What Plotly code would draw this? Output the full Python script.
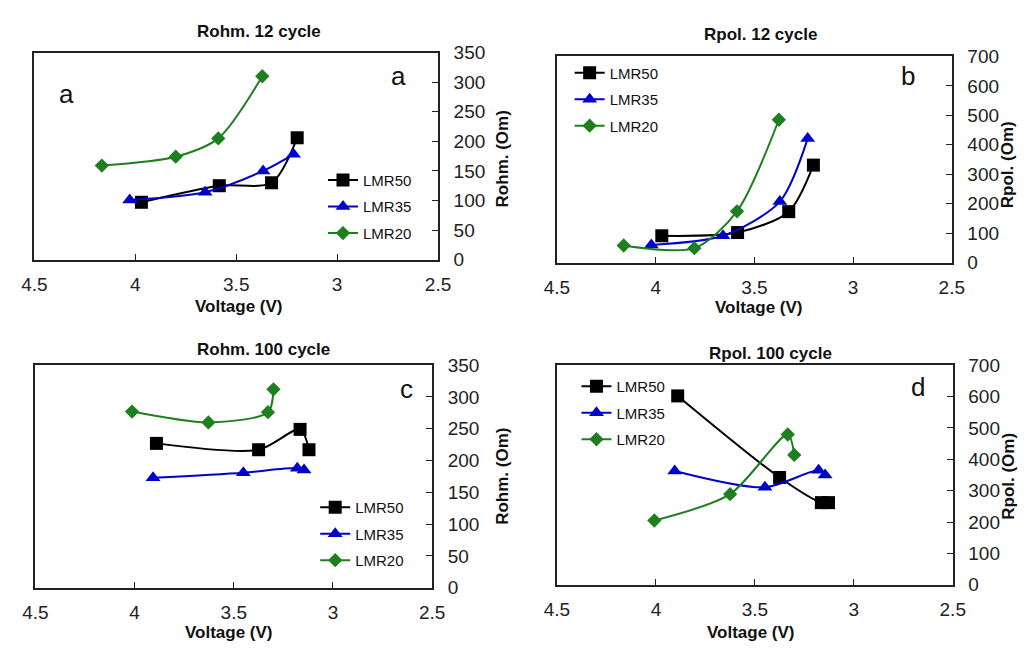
import plotly.graph_objects as go

# ---------------- data ----------------
series_names = ["LMR50", "LMR35", "LMR20"]

# (a) Rohm, 12 cycle
a_v50 = [3.970, 3.584, 3.325, 3.198]
a_r50 = [97, 125, 130, 206]
a_v35 = [4.028, 3.654, 3.367, 3.216]
a_r35 = [101, 114, 150, 178]
a_v20 = [4.166, 3.800, 3.589, 3.371]
a_r20 = [159, 174, 205, 310]

# (b) Rpol, 12 cycle
b_v50 = [3.969, 3.585, 3.326, 3.201]
b_r50 = [91, 102, 173, 331]
b_v35 = [4.022, 3.659, 3.371, 3.230]
b_r35 = [60, 91, 207, 421]
b_v20 = [4.162, 3.804, 3.588, 3.376]
b_r20 = [58, 49, 174, 485]

# (c) Rohm, 100 cycle
c_v50 = [3.890, 3.375, 3.166, 3.121]
c_r50 = [227, 217, 249, 217]
c_v35 = [3.907, 3.452, 3.180, 3.146]
c_r35 = [173, 181, 188, 185]
c_v20 = [4.013, 3.628, 3.328, 3.300]
c_r20 = [277, 260, 276, 312]

# (d) Rpol, 100 cycle
d_v50 = [3.890, 3.375, 3.164, 3.128]
d_r50 = [602, 342, 262, 262]
d_v35 = [3.905, 3.449, 3.178, 3.145]
d_r35 = [363, 311, 365, 350]
d_v20 = [4.008, 3.625, 3.334, 3.301]
d_r20 = [205, 289, 479, 414]

x_ticks = [4.5, 4, 3.5, 3, 2.5]
rohm_ticks = [0, 50, 100, 150, 200, 250, 300, 350]
rpol_ticks = [0, 100, 200, 300, 400, 500, 600, 700]

panel_titles = ["Rohm. 12 cycle", "Rpol. 12 cycle", "Rohm. 100 cycle", "Rpol. 100 cycle"]
x_title = "Voltage (V)"
y_titles = ["Rohm. (Om)", "Rpol. (Om)", "Rohm. (Om)", "Rpol. (Om)"]

# ---------------- styling ----------------
W, H = 1034, 651
FONT = "Liberation Sans, Arial, sans-serif"
colors = ["#000000", "#0000CC", "#1E7F1E"]
symbols = ["square", "triangle-up", "diamond"]
msizes = [13, 13, 11]

def px_x(p):
    return p / W

def px_y(p):
    return 1 - p / H

# plot boxes in pixels: (left, right, top, bottom)
boxes = [(22, 436, 44, 258), (558, 963, 48, 261), (23, 430, 367, 597), (558, 964, 367, 594)]

fig = go.Figure()

panels = [
    ([a_v50, a_v35, a_v20], [a_r50, a_r35, a_r20]),
    ([b_v50, b_v35, b_v20], [b_r50, b_r35, b_r20]),
    ([c_v50, c_v35, c_v20], [c_r50, c_r35, c_r20]),
    ([d_v50, d_v35, d_v20], [d_r50, d_r35, d_r20]),
]
legend_ids = ["legend", "legend2", "legend3", "legend4"]

for i, (vs, rs) in enumerate(panels):
    xa = "x" if i == 0 else f"x{i+1}"
    ya = "y" if i == 0 else f"y{i+1}"
    for k in range(3):
        fig.add_trace(go.Scatter(
            x=vs[k], y=rs[k], name=series_names[k],
            mode="lines+markers",
            line=dict(color=colors[k], width=2, shape="spline", smoothing=0.8),
            marker=dict(symbol=symbols[k], size=msizes[k], color=colors[k]),
            xaxis=xa, yaxis=ya,
            legend=legend_ids[i], legendgroup=f"p{i}s{k}",
            cliponaxis=False,
        ))

axis_line = dict(showline=True, linecolor="#222222", linewidth=1.5, mirror=True,
                 showgrid=False, zeroline=False, ticks="inside", tickcolor="#222222",
                 ticklen=6, tickwidth=1.2)

layout = dict(width=W, height=H, autosize=False, margin=dict(l=0, r=0, t=0, b=0),
              paper_bgcolor="white", plot_bgcolor="white",
              font=dict(family=FONT, color="#111111"), showlegend=True)

for i, (l, r, t, b) in enumerate(boxes):
    xk = "xaxis" if i == 0 else f"xaxis{i+1}"
    yk = "yaxis" if i == 0 else f"yaxis{i+1}"
    xa = "x" if i == 0 else f"x{i+1}"
    ya = "y" if i == 0 else f"y{i+1}"
    yt = rohm_ticks if i in (0, 2) else rpol_ticks
    layout[xk] = dict(domain=[px_x(l), px_x(r)], range=[4.5, 2.5], anchor=ya,
                      tickvals=x_ticks, ticktext=[("%g" % v) for v in x_ticks],
                      tickfont=dict(size=19, family=FONT, color="#222222"),
                      ticklabelstandoff=7, **axis_line)
    layout[yk] = dict(domain=[px_y(b), px_y(t)], range=[yt[0], yt[-1]], anchor=xa,
                      side="right", tickvals=yt,
                      tickfont=dict(size=19, family=FONT, color="#222222"),
                      ticklabelstandoff=10, **axis_line)

# legends
leg_pos = [(318, 159), (571, 48), (310, 497), (578, 372)]
for i, (lx, ly) in enumerate(leg_pos):
    layout[legend_ids[i]] = dict(x=px_x(lx), y=px_y(ly), xanchor="left", yanchor="top",
                                 xref="paper", yref="paper",
                                 bgcolor="rgba(0,0,0,0)", borderwidth=0,
                                 font=dict(size=15, family=FONT, color="#111111"),
                                 traceorder="grouped", tracegroupgap=4)

fig.update_layout(**layout)

annotations = []
title_pos = [(252, 22), (767, 25), (257, 351), (777, 355)]
for txt, (x, y) in zip(panel_titles, title_pos):
    annotations.append(dict(text=f"<b>{txt}</b>", x=px_x(x), y=px_y(y), xref="paper", yref="paper",
                            showarrow=False, font=dict(size=17, family=FONT, color="#111111"),
                            xanchor="center", yanchor="middle"))
xt_pos = [(232, 306), (765, 307), (222, 643), (757, 643)]
for (x, y) in xt_pos:
    annotations.append(dict(text=f"<b>{x_title}</b>", x=px_x(x), y=px_y(y), xref="paper", yref="paper",
                            showarrow=False, font=dict(size=17, family=FONT, color="#111111"),
                            xanchor="center", yanchor="middle"))
yt_pos = [(502, 154), (1020, 160), (502, 482), (1021, 482)]
for txt, (x, y) in zip(y_titles, yt_pos):
    annotations.append(dict(text=f"<b>{txt}</b>", x=px_x(x), y=px_y(y), xref="paper", yref="paper",
                            showarrow=False, textangle=-90, font=dict(size=17, family=FONT, color="#111111"),
                            xanchor="center", yanchor="middle"))
letters = [("a", 55, 87), ("a", 395, 68), ("b", 918, 68), ("c", 404, 392), ("d", 928, 390)]
for txt, x, y in letters:
    annotations.append(dict(text=txt, x=px_x(x), y=px_y(y), xref="paper", yref="paper",
                            showarrow=False, font=dict(size=26, family=FONT, color="#111111"),
                            xanchor="center", yanchor="middle"))

fig.update_layout(annotations=annotations)
fig.write_html("out.html")
